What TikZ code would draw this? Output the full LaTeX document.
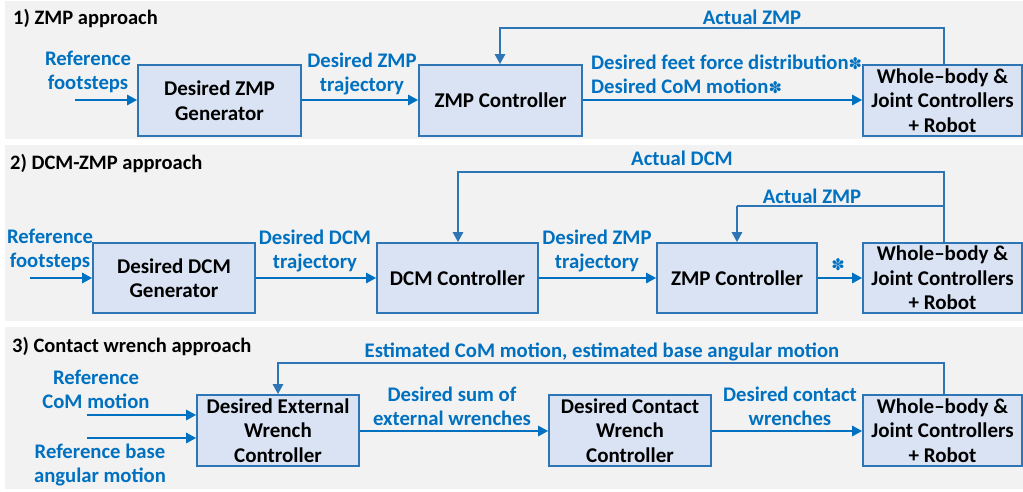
\documentclass[tikz,border=0pt]{standalone}
\usepackage{fontspec}
\setmainfont{Carlito}
\newfontfamily\symfont{DejaVu Sans}
\usetikzlibrary{arrows.meta}
\definecolor{panelbg}{HTML}{F2F2F2}
\definecolor{boxfill}{HTML}{DAE3F3}
\definecolor{boxline}{HTML}{2E75B6}
\definecolor{lblue}{HTML}{0070C0}
\definecolor{fbline}{HTML}{2E75B6}
\newcommand{\myast}{{\symfont\fontsize{16}{16}\selectfont ✽}}
\tikzset{
  blk/.style={draw=boxline, fill=boxfill, line width=1.6pt, minimum height=71pt, inner sep=0pt, align=center, font=\fontsize{21}{24.5}\selectfont\bfseries, text=black},
  lbl/.style={text=lblue, align=center, inner sep=0pt, font=\fontsize{20.7}{24}\selectfont\bfseries},
  ttl/.style={text=black, anchor=west, inner sep=0pt, font=\fontsize{20.5}{22}\selectfont\bfseries},
  flow/.style={draw=lblue, line width=2.8pt, -{Triangle[length=10pt,width=10pt]}},
  fb/.style={draw=fbline, line width=2.8pt, -{Triangle[length=10pt,width=10pt]}},
  panel/.style={fill=panelbg, draw=none}
}
\begin{document}
\begin{tikzpicture}[x=1pt,y=-1pt]
\useasboundingbox (0,0) rectangle (1023,491);
\fill[white] (0,0) rectangle (1023,491);
% panels
\path[panel] (5,1) rectangle (1023,139);
\path[panel] (5,145) rectangle (1023,321);
\path[panel] (5,327) rectangle (1023,489);

% ===== Panel 1 =====
\node[ttl] (t1) at (13,18) {1) ZMP approach};
\node[blk, minimum width=163pt] (g1) at (219.5,100.5) {Desired ZMP\\Generator};
\node[blk, minimum width=163pt] (c1) at (500.5,100.5) {ZMP Controller};
\node[blk, minimum width=159pt] (w1) at (942.5,100.5) {Whole--body \&\\Joint Controllers\\+ Robot};
\coordinate (in1) at (75,100);
\draw[flow] (in1) -- (g1.west |- in1);
\node[lbl] (l1a) at (88,72) {Reference\\footsteps};
\draw[flow] (g1.east |- 0,100) -- (c1.west |- 0,100);
\node[lbl] (l1b) at (362,74) {Desired ZMP\\trajectory};
\draw[flow] (c1.east |- 0,100) -- (w1.west |- 0,100);
\node[lbl, anchor=west, align=left] (l1c) at (591,74) {Desired feet force distribution\myast\\Desired CoM motion\myast};
\coordinate (f1a) at (944,28);
\coordinate (f1b) at (500,28);
\draw[fb] (w1.north -| f1a) -- (f1a) -- (f1b) -- (c1.north -| f1b);
\node[lbl] (l1d) at (752,17) {Actual ZMP};

% ===== Panel 2 =====
\node[ttl] (t2) at (10,163) {2) DCM-ZMP approach};
\node[blk, minimum width=162pt, minimum height=70pt] (g2) at (174,278) {Desired DCM\\Generator};
\node[blk, minimum width=161pt, minimum height=70pt] (d2) at (457.5,278) {DCM Controller};
\node[blk, minimum width=160pt, minimum height=70pt] (z2) at (737,278) {ZMP Controller};
\node[blk, minimum width=159pt, minimum height=70pt] (w2) at (942.5,278) {Whole--body \&\\Joint Controllers\\+ Robot};
\coordinate (in2) at (30,278);
\draw[flow] (in2) -- (g2.west |- in2);
\node[lbl] (l2a) at (50,250) {Reference\\footsteps};
\draw[flow] (g2.east) -- (d2.west);
\node[lbl] (l2b) at (315,251) {Desired DCM\\trajectory};
\draw[flow] (d2.east) -- (z2.west);
\node[lbl] (l2c) at (597,251) {Desired ZMP\\trajectory};
\draw[flow] (z2.east) -- (w2.west);
\node[text=lblue, inner sep=0pt] (l2d) at (838,265) {\myast};
\coordinate (f2a) at (944,172);
\coordinate (f2b) at (458,172);
\draw[fb] (w2.north -| f2a) -- (f2a) -- (f2b) -- (d2.north -| f2b);
\node[lbl] (l2e) at (682,158) {Actual DCM};
\coordinate (f2c) at (944,206);
\coordinate (f2d) at (737,206);
\draw[fb, -] (f2c) -- (f2d);
\draw[fb] (f2d) -- (z2.north -| f2d);
\node[lbl] (l2f) at (812,196) {Actual ZMP};

% ===== Panel 3 =====
\node[ttl] (t3) at (12,346) {3) Contact wrench approach};
\node[blk, minimum width=162pt] (e3) at (278,430.5) {Desired External\\Wrench\\Controller};
\node[blk, minimum width=162pt] (c3) at (630,430.5) {Desired Contact\\Wrench\\Controller};
\node[blk, minimum width=159pt] (w3) at (942.5,430.5) {Whole--body \&\\Joint Controllers\\+ Robot};
\coordinate (in3a) at (87,415);
\coordinate (in3b) at (87,438);
\draw[flow] (in3a) -- (e3.west |- in3a);
\draw[flow] (in3b) -- (e3.west |- in3b);
\node[lbl] (l3a) at (96,389) {Reference\\CoM motion};
\node[lbl] (l3b) at (100,465) {Reference base\\angular motion};
\draw[flow] (e3.east |- 0,431) -- (c3.west |- 0,431);
\node[lbl] (l3c) at (452,406) {Desired sum of\\external wrenches};
\draw[flow] (c3.east |- 0,431) -- (w3.west |- 0,431);
\node[lbl] (l3d) at (790,406) {Desired contact\\wrenches};
\coordinate (f3a) at (944,363);
\coordinate (f3b) at (278,363);
\draw[fb] (w3.north -| f3a) -- (f3a) -- (f3b) -- (e3.north -| f3b);
\node[lbl] (l3e) at (602,352) {Estimated CoM motion, estimated base angular motion};
\end{tikzpicture}
\end{document}
